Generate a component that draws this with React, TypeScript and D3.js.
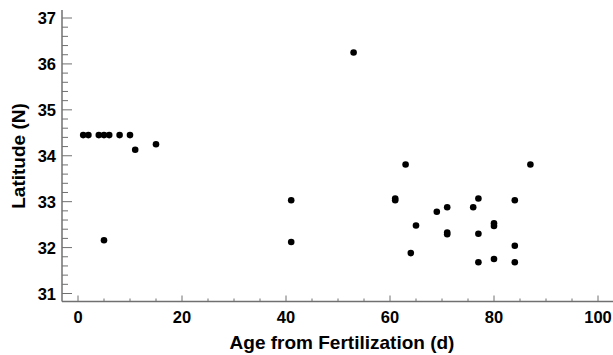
import React from "react";
import * as d3 from "d3";

const ages = [1, 2, 4, 5, 6, 8, 10, 11, 15, 5, 41, 41, 53, 61, 61, 63, 64, 65, 69, 71, 71, 71, 76, 77, 77, 77, 80, 80, 80, 84, 84, 84, 87];
const latitudes = [34.45, 34.45, 34.45, 34.45, 34.45, 34.45, 34.45, 34.13, 34.25, 32.16, 33.03, 32.12, 36.25, 33.07, 33.03, 33.81, 31.88, 32.48, 32.78, 32.88, 32.33, 32.29, 32.88, 33.07, 32.3, 31.68, 32.53, 32.47, 31.75, 33.03, 32.04, 31.68, 33.81];

const xMajorTicks = [0, 20, 40, 60, 80, 100];
const xMinorTicks = [5, 10, 15, 25, 30, 35, 45, 50, 55, 65, 70, 75, 85, 90, 95];
const yMajorTicks = [31, 32, 33, 34, 35, 36, 37];

const xTitle = "Age from Fertilization (d)";
const yTitle = "Latitude (N)";

export default function App() {
  const W = 613, H = 355;
  const x = d3.scaleLinear().domain([0, 100]).range([78, 598]);
  const y = d3.scaleLinear().domain([31, 37]).range([293.5, 18]);
  const axisX0 = 62, axisX1 = 613, axisY0 = 10, axisY1 = 301.5;
  const yMinor = d3.range(31, 37.001, 0.2).filter(v => Math.abs(v - Math.round(v)) > 0.01);
  const font = "Arial, 'Liberation Sans', sans-serif";
  const axisColor = "#707070";
  return (
    <svg width={W} height={H} style={{ position: "absolute", left: 0, top: 0, background: "#fff" }}>
      <line x1={axisX0} x2={axisX0} y1={axisY0} y2={axisY1} stroke={axisColor} strokeWidth={1.5} />
      <line x1={axisX0} x2={axisX1} y1={axisY1} y2={axisY1} stroke={axisColor} strokeWidth={1.5} />
      {yMajorTicks.map(v => (
        <g key={"ym" + v}>
          <line x1={axisX0} x2={axisX0 + 10} y1={y(v)} y2={y(v)} stroke={axisColor} strokeWidth={1} />
          <text x={56} y={y(v) + 6} textAnchor="end" fontFamily={font} fontWeight="bold" fontSize={16.5} fill="#000">{v}</text>
        </g>
      ))}
      {yMinor.map((v, i) => (
        <line key={"yn" + i} x1={axisX0} x2={axisX0 + 6} y1={y(v)} y2={y(v)} stroke={axisColor} strokeWidth={1} />
      ))}
      {xMajorTicks.map(v => (
        <g key={"xm" + v}>
          <line x1={x(v)} x2={x(v)} y1={axisY1} y2={axisY1 - 6} stroke={axisColor} strokeWidth={1} />
          <text x={x(v)} y={323} textAnchor="middle" fontFamily={font} fontWeight="bold" fontSize={16.5} fill="#000">{v}</text>
        </g>
      ))}
      {xMinorTicks.map(v => (
        <line key={"xn" + v} x1={x(v)} x2={x(v)} y1={axisY1} y2={axisY1 - 3} stroke={axisColor} strokeWidth={1} />
      ))}
      <text x={342} y={349} textAnchor="middle" fontFamily={font} fontWeight="bold" fontSize={19} fill="#000">{xTitle}</text>
      <text transform={`translate(25,156) rotate(-90)`} textAnchor="middle" fontFamily={font} fontWeight="bold" fontSize={19} fill="#000">{yTitle}</text>
      {ages.map((a, i) => (
        <circle key={i} cx={x(a)} cy={y(latitudes[i])} r={3.3} fill="#000" />
      ))}
    </svg>
  );
}
